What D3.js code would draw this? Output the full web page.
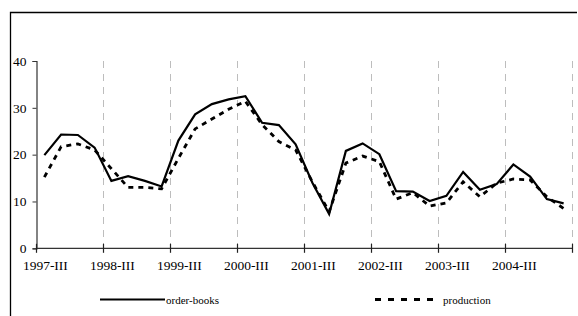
<!DOCTYPE html>
<html>
<head>
<meta charset="utf-8">
<script src="https://cdn.jsdelivr.net/npm/d3@7"></script>
<style>
  body { margin: 0; background: #fff; }
  svg { display: block; }
  text { font-family: "Liberation Serif", "Times New Roman", serif; fill: #000; }
</style>
</head>
<body>
<div id="mount"></div>
<script>
'use strict';

// quarters from 1997-III through 2005-II
const quarters = ['1997-III','1997-IV','1998-I','1998-II','1998-III','1998-IV','1999-I','1999-II',
  '1999-III','1999-IV','2000-I','2000-II','2000-III','2000-IV','2001-I','2001-II',
  '2001-III','2001-IV','2002-I','2002-II','2002-III','2002-IV','2003-I','2003-II',
  '2003-III','2003-IV','2004-I','2004-II','2004-III','2004-IV','2005-I','2005-II'];

const orderBooks = [19.9, 24.3, 24.2, 21.5, 14.4, 15.4, 14.4, 13.2,
  23.0, 28.6, 30.8, 31.8, 32.5, 26.8, 26.3, 22.2,
  14.0, 7.3, 20.8, 22.4, 20.1, 12.2, 12.1, 10.1,
  11.2, 16.3, 12.5, 13.7, 17.9, 15.3, 10.5, 9.6];

const production = [15.2, 21.7, 22.3, 21.0, 17.0, 13.0, 13.0, 12.7,
  19.2, 25.5, 27.6, 29.7, 31.4, 26.4, 22.8, 21.0,
  14.2, 7.8, 18.2, 19.7, 18.5, 10.5, 11.9, 9.0,
  9.7, 14.2, 11.0, 13.9, 14.8, 14.6, 11.0, 8.5];

const yTicks = [0, 10, 20, 30, 40];
const xLabels = ['1997-III','1998-III','1999-III','2000-III','2001-III','2002-III','2003-III','2004-III'];

const series = [
  { name: 'order-books', values: orderBooks, dash: null, width: 2.2 },
  { name: 'production', values: production, dash: '5,5', width: 2.8 }
];

const W = 578, H = 316;
const plot = { left: 36, right: 572, top: 61, bottom: 248.3 };

const svg = d3.select('#mount').append('svg')
    .attr('width', W)
    .attr('height', H);

// outer frame (only top and left edges show in the picture)
svg.append('path')
    .attr('d', `M10.5,${H} V12.5 H577`)
    .attr('fill', 'none')
    .attr('stroke', '#000')
    .attr('stroke-width', 1.3);

const x = d3.scaleBand()
    .domain(quarters)
    .range([plot.left, plot.right])
    .padding(0);

const y = d3.scaleLinear()
    .domain([0, 40])
    .range([plot.bottom, plot.top]);

// band boundaries every four quarters
const boundaries = quarters.filter((q, i) => i % 4 === 0).map(q => x(q)).concat([plot.right]);

// vertical dashed grid
svg.append('g')
  .selectAll('line')
  .data(boundaries.slice(1))
  .join('line')
    .attr('x1', d => d + 0.5)
    .attr('x2', d => d + 0.5)
    .attr('y1', y(40))
    .attr('y2', y(0))
    .attr('stroke', '#bdbdbd')
    .attr('stroke-width', 1)
    .attr('stroke-dasharray', '7,6');

// y axis
const yAxis = svg.append('g')
    .attr('transform', `translate(${plot.left + 0.5},0)`)
    .call(d3.axisLeft(y).tickValues(yTicks).tickSize(4).tickPadding(6));
yAxis.select('.domain').attr('stroke', '#333').attr('stroke-width', 1.2);
yAxis.selectAll('.tick line').attr('stroke', '#333');
yAxis.selectAll('text').style('font-size', '13.5px').attr('font-family', null);

// x axis with crossing ticks at band boundaries
const xg = svg.append('g').attr('transform', `translate(0,${plot.bottom})`);
xg.append('line')
    .attr('x1', plot.left)
    .attr('x2', plot.right)
    .attr('stroke', '#333')
    .attr('stroke-width', 1.2);
xg.selectAll('line.tk')
  .data(boundaries)
  .join('line')
    .attr('class', 'tk')
    .attr('x1', d => d + 0.5)
    .attr('x2', d => d + 0.5)
    .attr('y1', -4.5)
    .attr('y2', 4.5)
    .attr('stroke', '#222')
    .attr('stroke-width', 1.2);
xg.selectAll('text')
  .data(xLabels)
  .join('text')
    .attr('x', d => x(d) + x.bandwidth() / 2 + 1)
    .attr('y', 22)
    .attr('text-anchor', 'middle')
    .style('font-size', '13.5px')
    .text(d => d);

// lines
const line = d3.line()
    .x((d, i) => x(quarters[i]) + x.bandwidth() / 2)
    .y(d => y(d));

svg.append('g')
  .selectAll('path')
  .data(series.slice().reverse())
  .join('path')
    .attr('d', d => line(d.values))
    .attr('fill', 'none')
    .attr('stroke', '#000')
    .attr('stroke-width', d => d.width)
    .attr('stroke-dasharray', d => d.dash)
    .attr('stroke-linejoin', 'miter');

// legend
const legendPos = [{ x1: 100, x2: 165 }, { x1: 375, x2: 435 }];
const legend = svg.append('g')
  .selectAll('g')
  .data(series)
  .join('g')
    .attr('transform', (d, i) => `translate(0,299.5)`);
legend.append('line')
    .attr('x1', (d, i) => legendPos[i].x1)
    .attr('x2', (d, i) => legendPos[i].x2)
    .attr('stroke', '#000')
    .attr('stroke-width', d => d.dash ? 3 : 2.2)
    .attr('stroke-dasharray', d => d.dash ? '6,7' : null);
legend.append('text')
    .attr('x', (d, i) => legendPos[i].x2 + (d.dash ? 8 : 1))
    .attr('y', 4)
    .style('font-size', '11px')
    .text(d => d.name);
</script>
</body>
</html>
